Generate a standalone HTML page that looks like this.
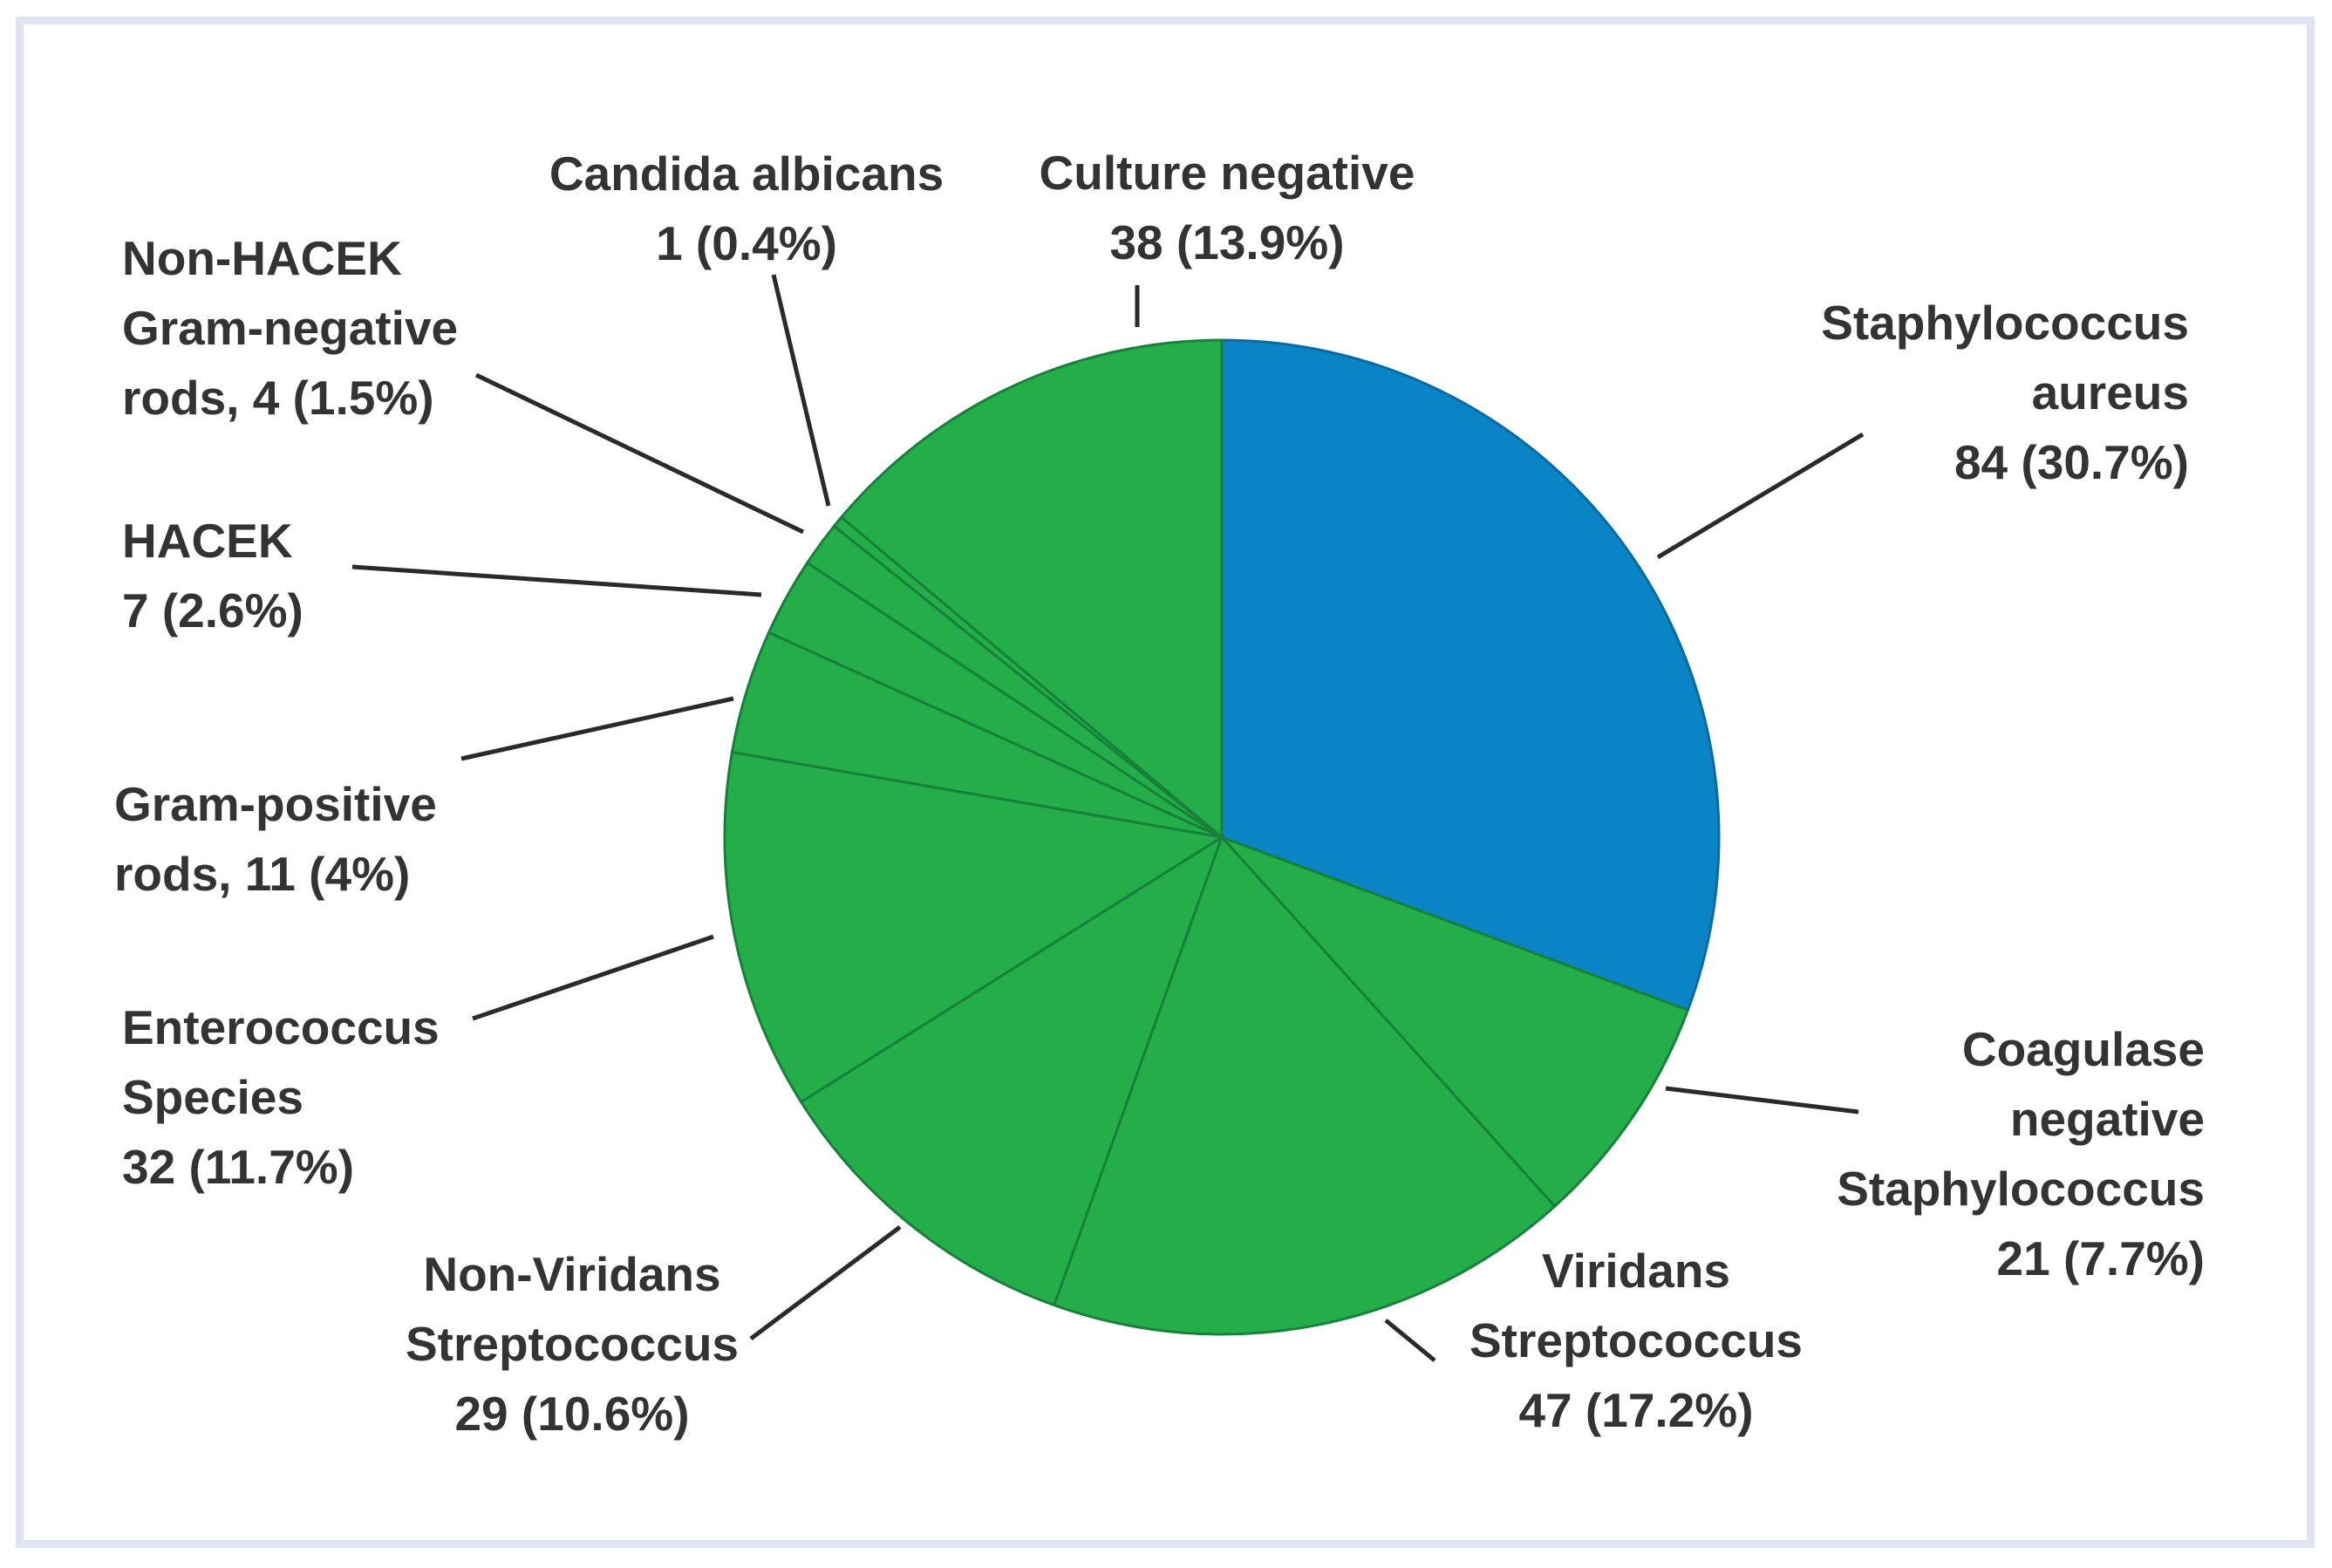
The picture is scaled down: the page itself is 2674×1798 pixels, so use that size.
<!DOCTYPE html>
<html><head><meta charset="utf-8"><style>
html,body{margin:0;padding:0;background:#fff;}
svg text{font-family:"Liberation Sans",sans-serif;font-weight:bold;font-size:55px;fill:#333;}
</style></head><body>
<svg id="chart" width="2674" height="1793" viewBox="0 0 2674 1793" xmlns="http://www.w3.org/2000/svg">
<rect x="22.5" y="23.5" width="2627" height="1747" fill="none" stroke="#e0e4f2" stroke-width="9"/>
<g id="slices"></g>
<g id="leaders" stroke="#2a2a2a" stroke-width="5"></g>
<g id="labels"></g>
</svg>
<script>
const categories = ["Staphylococcus aureus","Coagulase negative Staphylococcus","Viridans Streptococcus","Non-Viridans Streptococcus","Enterococcus Species","Gram-positive rods","HACEK","Non-HACEK Gram-negative rods","Candida albicans","Culture negative"];
const values = [84,21,47,29,32,11,7,4,1,38];
const colors = ["#0b84c6","#23ae4a","#23ae4a","#23ae4a","#23ae4a","#23ae4a","#23ae4a","#23ae4a","#23ae4a","#23ae4a"];
const labelLines = [
 ["Staphylococcus","aureus","84 (30.7%)"],
 ["Coagulase","negative","Staphylococcus","21 (7.7%)"],
 ["Viridans","Streptococcus","47 (17.2%)"],
 ["Non-Viridans","Streptococcus","29 (10.6%)"],
 ["Enterococcus","Species","32 (11.7%)"],
 ["Gram-positive","rods, 11 (4%)"],
 ["HACEK","7 (2.6%)"],
 ["Non-HACEK","Gram-negative","rods, 4 (1.5%)"],
 ["Candida albicans","1 (0.4%)"],
 ["Culture negative","38 (13.9%)"]
];
const NS="http://www.w3.org/2000/svg";
const cx=1401, cy=960, r=570;
const layout=[
 {x:2510,y:389,a:"end",l:[2136,498,1901,639]},
 {x:2528,y:1222,a:"end",l:[1910,1248,2131,1275]},
 {x:1876,y:1476,a:"middle",l:[1589,1514,1645,1560]},
 {x:656,y:1480,a:"middle",l:[1032,1407,861,1535]},
 {x:140,y:1197,a:"start",l:[818,1074,542,1168]},
 {x:131,y:941,a:"start",l:[841,801,529,870]},
 {x:140,y:639,a:"start",l:[404,650,873,682]},
 {x:140,y:315,a:"start",l:[546,430,921,610]},
 {x:856,y:218,a:"middle",l:[887,315,950,580]},
 {x:1407,y:217,a:"middle",l:[1304,327,1304,375]}
];
const total=values.reduce((a,b)=>a+b,0);
const sg=document.getElementById('slices'),lg=document.getElementById('leaders'),tg=document.getElementById('labels');
function pt(a){return [cx+r*Math.sin(a),cy-r*Math.cos(a)];}
let acc=0;
values.forEach((v,i)=>{
 const a0=acc/total*2*Math.PI; acc+=v; const a1=acc/total*2*Math.PI;
 const p0=pt(a0),p1=pt(a1);
 const p=document.createElementNS(NS,'path');
 p.setAttribute('d',`M${cx},${cy} L${p0[0]},${p0[1]} A${r},${r} 0 ${a1-a0>Math.PI?1:0} 1 ${p1[0]},${p1[1]} Z`);
 p.setAttribute('fill',colors[i]);
 p.setAttribute('stroke',i===0?'#0a6aa0':'#17803a');
 p.setAttribute('stroke-width','3');
 
 
 sg.appendChild(p);
 const L=layout[i];
 const ln=document.createElementNS(NS,'line');
 ln.setAttribute('x1',L.l[0]);ln.setAttribute('y1',L.l[1]);ln.setAttribute('x2',L.l[2]);ln.setAttribute('y2',L.l[3]);
 
 
 lg.appendChild(ln);
 const t=document.createElementNS(NS,'text');
 t.setAttribute('text-anchor',L.a);
 
 
 labelLines[i].forEach((s,k)=>{
  const ts=document.createElementNS(NS,'tspan');
  ts.setAttribute('x',L.x);ts.setAttribute('y',L.y+k*80);
  ts.textContent=s;t.appendChild(ts);
 });
 tg.appendChild(t);
});
</script>
</body></html>
